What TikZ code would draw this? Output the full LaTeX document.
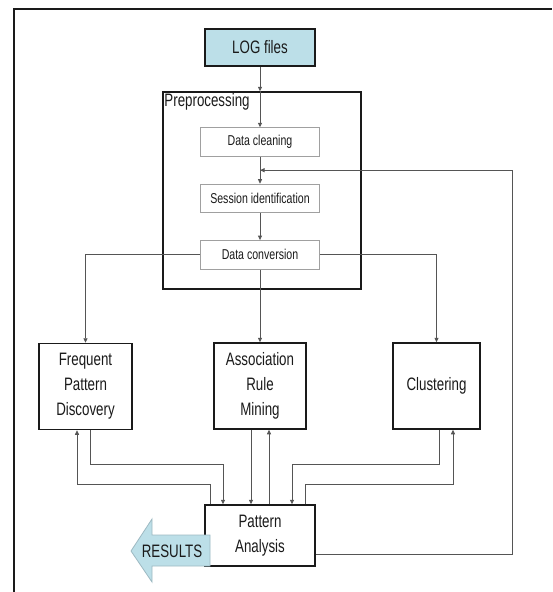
\documentclass[tikz,border=0pt]{standalone}
\usepackage{fontspec}
\setmainfont{Liberation Sans}[FakeStretch=0.74]
\usetikzlibrary{arrows.meta,positioning,calc}
\definecolor{LogBlue}{HTML}{BCDFE8}
\definecolor{ArrowEdge}{HTML}{9DB9C2}
\definecolor{StepEdge}{HTML}{A0A0A0}
\definecolor{Wire}{HTML}{555555}
\definecolor{Ink}{HTML}{1A1A1A}
\tikzset{
  srcbox/.style={draw=Ink,fill=LogBlue,line width=1.5pt,minimum width=110pt,minimum height=37pt,inner sep=0pt,text=Ink,font=\fontsize{18}{22}\selectfont},
  group/.style={draw=Ink,line width=1.5pt,minimum width=198pt,minimum height=197pt,inner sep=0pt},
  stepbox/.style={draw=StepEdge,fill=white,line width=0.9pt,minimum width=119pt,minimum height=28.5pt,inner sep=0pt,text=Ink,font=\fontsize{14.3}{17}\selectfont},
  mainbox/.style={draw=Ink,fill=white,line width=1.5pt,minimum width=92pt,minimum height=86pt,inner sep=0pt,align=center,text=Ink,font=\fontsize{18}{25}\selectfont},
  line/.style={-{Triangle[length=4.5pt,width=4pt]},draw=Wire,line width=0.8pt}
}

\begin{document}
\begin{tikzpicture}[x=1pt,y=-1pt]
  \useasboundingbox (0,0) rectangle (552,592);
  \draw[line width=2.5pt,Ink] (14,592) -- (14,9) -- (552,9);

  \node[srcbox] (logs) at (260,47.5) {LOG files};
  \node[group] (prep) at (262,190.5) {};
  \node[anchor=north west,inner sep=2pt,text=Ink,font=\fontsize{18}{22}\selectfont] (prepTitle) at (prep.north west) {Preprocessing};
  \node[stepbox] (clean) at (260,142) {Data cleaning};
  \node[stepbox,below=27pt of clean] (session) {Session identification};
  \node[stepbox,below=27pt of session] (convert) {Data conversion};

  \node[mainbox,minimum width=93pt] (fpd) at (85.5,386.5) {Frequent\\Pattern\\Discovery};
  \node[mainbox] (arm) at (260,386) {Association\\Rule\\Mining};
  \node[mainbox,minimum width=87pt] (clust) at (436.5,386) {Clustering};
  \node[mainbox,minimum width=110pt,minimum height=61pt] (pa) at (260,535.5) {Pattern\\Analysis};

  % results arrow
  \filldraw[fill=LogBlue,draw=ArrowEdge,line width=0.8pt] (210,535) -- (152,535) -- (152,519) -- (131,551) -- (152,582) -- (152,566) -- (210,566) -- cycle;
  \node[text=Ink,font=\fontsize{18}{22}\selectfont] (results) at (172,551) {RESULTS};

  \coordinate (upper) at (0,464);
  \coordinate (lower) at (0,484);
  \coordinate (fbin) at ($(clean.south)!0.5!(session.north)$);

  \draw[line] (logs) -- (logs |- prep.north);
  \draw[line] (logs |- prep.north) -- (clean);
  \draw[line] (clean) -- (session);
  \draw[line] (session) -- (convert);
  \draw[line] (convert.west) -| (fpd.north);
  \draw[line] (convert) -- (arm);
  \draw[line] (convert.east) -| (clust.north);

  \draw[line] ([xshift=4.5]fpd.south) |- ([xshift=-37]pa.north |- upper) -- ([xshift=-37]pa.north);
  \draw[line] ([xshift=-50]pa.north) |- ([xshift=-8.5]fpd.south |- lower) -- ([xshift=-8.5]fpd.south);
  \draw[line] ([xshift=-9]arm.south) -- ([xshift=-9]pa.north);
  \draw[line] ([xshift=9]pa.north) -- ([xshift=9]arm.south);
  \draw[line] ([xshift=2.5]clust.south) |- ([xshift=32]pa.north |- upper) -- ([xshift=32]pa.north);
  \draw[line] ([xshift=45]pa.north) |- ([xshift=16.5]clust.south |- lower) -- ([xshift=16.5]clust.south);
  \draw[line] ([yshift=-18.5]pa.east) -| ([xshift=252]fbin) -- (fbin);
\end{tikzpicture}
\end{document}
